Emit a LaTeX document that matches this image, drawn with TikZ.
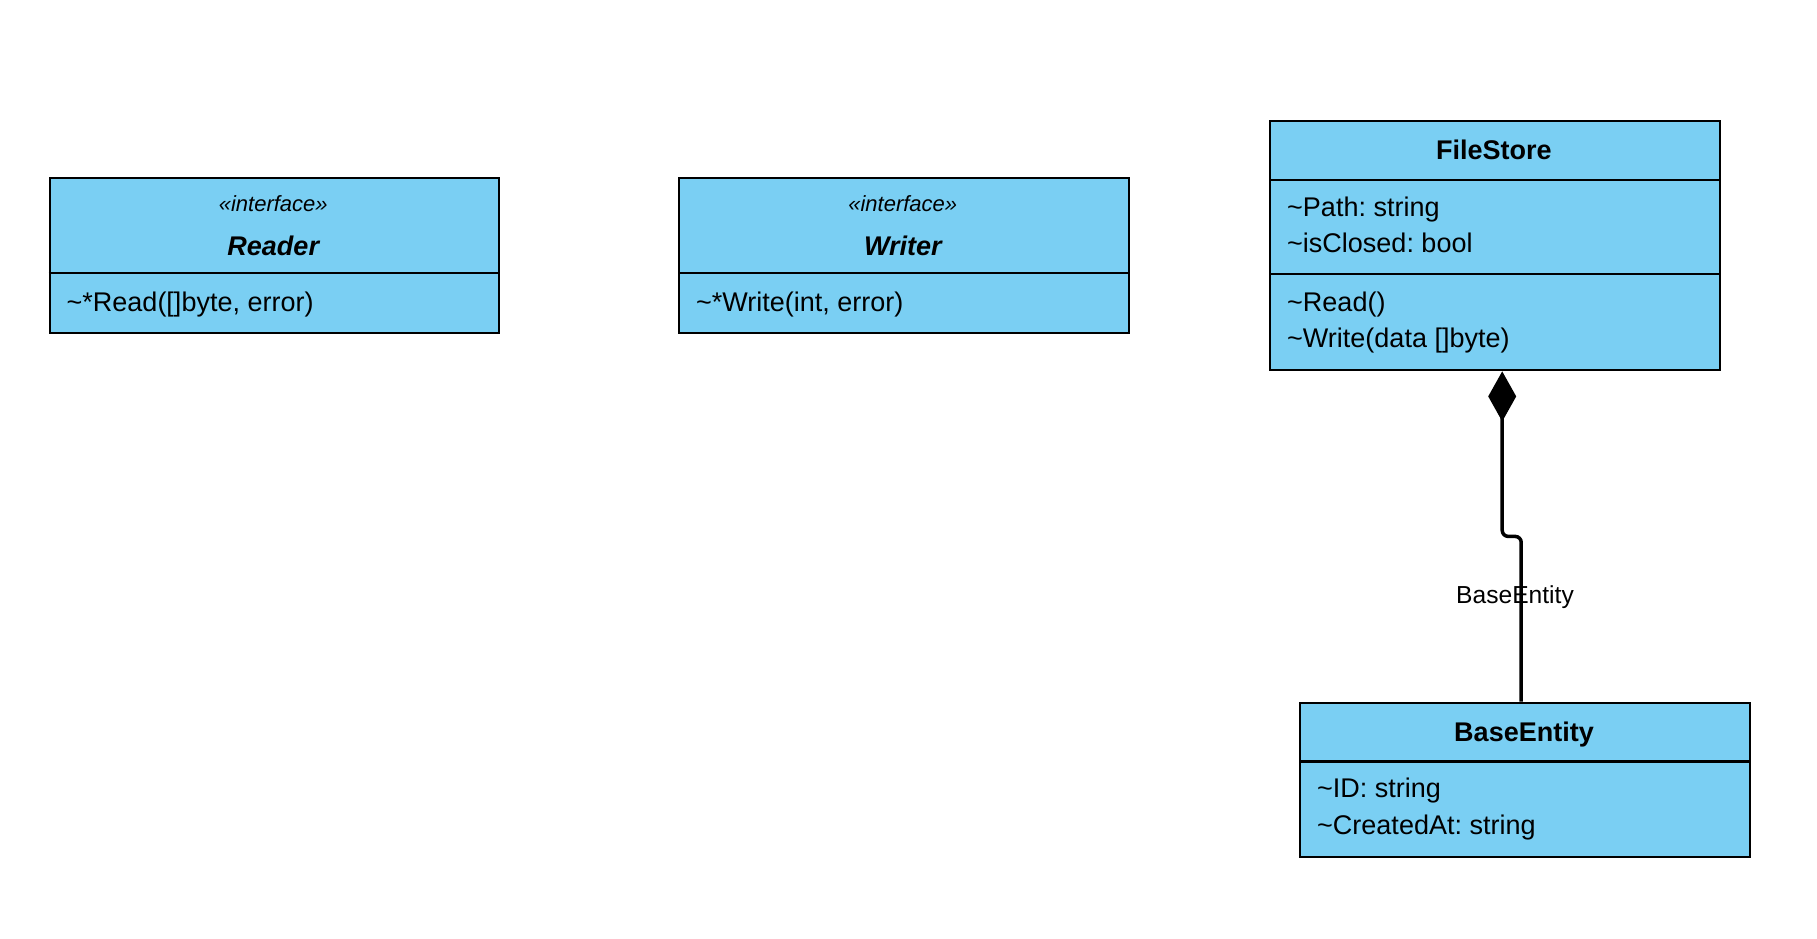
\documentclass[tikz,border=0pt]{standalone}
\usepackage{fontspec}
\setmainfont{Liberation Sans}
\usetikzlibrary{arrows.meta}
\frenchspacing
\newcommand\mytilde{\textasciitilde}
\definecolor{umlblue}{RGB}{122,207,243}
\tikzset{
  classbox/.style={draw=black, fill=umlblue, line width=2.4pt, inner sep=0pt, anchor=north west},
  divider/.style={draw=black, line width=2.4pt},
  member/.style={anchor=base west, inner sep=0pt, font=\fontsize{27}{32}\selectfont},
  title/.style={anchor=base, inner sep=0pt, font=\fontsize{27}{32}\selectfont\bfseries},
  ititle/.style={anchor=base, inner sep=0pt, font=\fontsize{27}{32}\selectfont\bfseries\itshape},
  stereo/.style={anchor=base, inner sep=0pt, font=\fontsize{22}{26}\selectfont\itshape},
  conn/.style={draw=black, line width=3.5pt, rounded corners=6pt},
  lbl/.style={anchor=base, inner sep=0pt, font=\fontsize{24.6}{29}\selectfont}
}
\begin{document}
\begin{tikzpicture}[x=1pt,y=-1pt]
\useasboundingbox (0,0) rectangle (1817,938);
% Reader
\node[classbox, minimum width=449.5pt, minimum height=155.5pt] (r) at (48.5,176.5) {};
\draw[divider] (r.west |- 0,273) -- (r.east |- 0,273);
\node[stereo] (rs) at (273.25,211.7) {«interface»};
\node[ititle] (rt) at (273.25,255) {Reader};
\node[member] (rm) at (66.5,311.7) {\mytilde*Read([]byte, error)};
% Writer
\node[classbox, minimum width=449.5pt, minimum height=155.5pt] (w) at (678,176.5) {};
\draw[divider] (w.west |- 0,273) -- (w.east |- 0,273);
\node[stereo] (ws) at (902.75,211.7) {«interface»};
\node[ititle] (wt) at (902.75,255) {Writer};
\node[member] (wm) at (696,311.7) {\mytilde*Write(int, error)};
% FileStore
\node[classbox, minimum width=449.5pt, minimum height=249.5pt] (fs) at (1269,119.5) {};
\draw[divider] (fs.west |- 0,180) -- (fs.east |- 0,180);
\draw[divider] (fs.west |- 0,274) -- (fs.east |- 0,274);
\node[title] (fst) at (1493.75,159.3) {FileStore};
\node[member] (fs1) at (1287,216) {\mytilde Path: string};
\node[member] (fs2) at (1287,252.7) {\mytilde isClosed: bool};
\node[member] (fs3) at (1287,311.7) {\mytilde Read()};
\node[member] (fs4) at (1287,347.7) {\mytilde Write(data []byte)};
% BaseEntity
\node[classbox, minimum width=450pt, minimum height=154.5pt] (be) at (1299,701.5) {};
\draw[divider] (be.west |- 0,761.5) -- (be.east |- 0,761.5);
\node[title] (bet) at (1524,741) {BaseEntity};
\node[member] (be1) at (1317,797.3) {\mytilde ID: string};
\node[member] (be2) at (1317,834.5) {\mytilde CreatedAt: string};
% composition
\draw[conn, {Diamond[length=50pt,width=28pt]}-] ([xshift=7.25pt]fs.south) -- ++(0,165) -| ([xshift=-4pt]be.north);
\node[lbl] (cl) at (1515,603.5) {BaseEntity};
\end{tikzpicture}
\end{document}
